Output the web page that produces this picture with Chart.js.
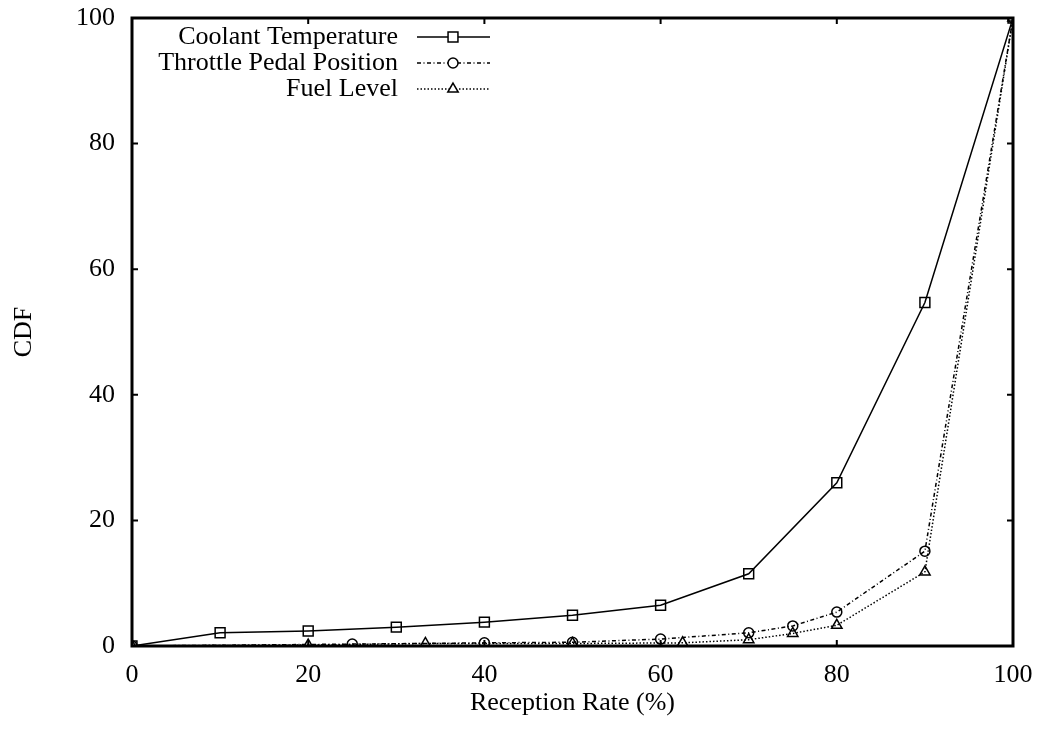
<!DOCTYPE html>
<html>
<head>
<meta charset="utf-8">
<script src="https://cdn.jsdelivr.net/npm/chart.js@4.4.1/dist/chart.umd.min.js"></script>
<style>
html,body{margin:0;padding:0;background:#fff;}
#wrap{width:1041px;height:732px;position:relative;}
</style>
</head>
<body>
<div id="wrap"><canvas id="c" width="1041" height="732"></canvas></div>
<script>
// ---- data ----
const seriesNames = ["Coolant Temperature", "Throttle Pedal Position", "Fuel Level"];
const coolantX = [0, 10, 20, 30, 40, 50, 60, 70, 80, 90, 100];
const coolantY = [0, 2.1, 2.4, 3.0, 3.8, 4.9, 6.5, 11.5, 26.0, 54.7, 100];
const throttleX = [0, 25, 40, 50, 60, 70, 75, 80, 90, 100];
const throttleY = [0, 0.3, 0.5, 0.6, 1.1, 2.1, 3.2, 5.4, 15.1, 100];
const fuelX = [0, 20, 33.3, 50, 62.5, 70, 75, 80, 90, 100];
const fuelY = [0, 0.15, 0.4, 0.4, 0.5, 1.0, 2.0, 3.3, 11.8, 100];
const xTicks = [0, 20, 40, 60, 80, 100];
const yTicks = [0, 20, 40, 60, 80, 100];
const xTitle = "Reception Rate (%)";
const yTitle = "CDF";

const FONT = "'Liberation Serif', 'Times New Roman', serif";
const FS = 26;
const pts = (xs, ys) => xs.map((x, i) => ({x: x, y: ys[i]}));

const styles = [
  {dash: [], pointStyle: 'rect', r: 7},
  {dash: [4, 2.5, 1, 2.5], pointStyle: 'circle', r: 5},
  {dash: [1.5, 2], pointStyle: 'triangle', r: 6}
];

const datasets = [pts(coolantX, coolantY), pts(throttleX, throttleY), pts(fuelX, fuelY)].map((d, i) => ({
  label: seriesNames[i],
  data: d,
  showLine: true,
  borderColor: '#000',
  backgroundColor: 'rgba(0,0,0,0)',
  borderWidth: 1.5,
  borderDash: styles[i].dash,
  pointStyle: styles[i].pointStyle,
  pointRadius: styles[i].r,
  pointBorderWidth: 1.5,
  pointBorderColor: '#000',
  pointBackgroundColor: 'rgba(0,0,0,0)',
  tension: 0
}));

// frame, inward ticks and legend (gnuplot style)
const framePlugin = {
  id: 'frame',
  afterDatasetsDraw(chart) {
    const {ctx, chartArea: a, scales} = chart;
    ctx.save();
    ctx.strokeStyle = '#000';
    ctx.lineWidth = 3;
    ctx.strokeRect(a.left, a.top, a.right - a.left, a.bottom - a.top);
    ctx.lineWidth = 2;
    const tl = 6;
    xTicks.forEach(v => {
      const x = scales.x.getPixelForValue(v);
      ctx.beginPath();
      ctx.moveTo(x, a.bottom); ctx.lineTo(x, a.bottom - tl);
      ctx.moveTo(x, a.top); ctx.lineTo(x, a.top + tl);
      ctx.stroke();
    });
    yTicks.forEach(v => {
      const y = scales.y.getPixelForValue(v);
      ctx.beginPath();
      ctx.moveTo(a.left, y); ctx.lineTo(a.left + tl, y);
      ctx.moveTo(a.right, y); ctx.lineTo(a.right - tl, y);
      ctx.stroke();
    });
    // legend
    ctx.font = FS + "px " + FONT;
    ctx.textAlign = 'right';
    ctx.textBaseline = 'middle';
    const rows = [37, 63, 89];
    chart.data.datasets.forEach((ds, i) => {
      const y = rows[i];
      ctx.fillStyle = '#000';
      ctx.fillText(ds.label, 398, y);
      ctx.setLineDash(ds.borderDash);
      ctx.lineWidth = 1.5;
      ctx.beginPath();
      ctx.moveTo(417, y); ctx.lineTo(490, y);
      ctx.stroke();
      ctx.setLineDash([]);
      ctx.fillStyle = '#fff';
      Chart.helpers.drawPoint(ctx, {pointStyle: ds.pointStyle, radius: ds.pointRadius, rotation: 0, borderWidth: 1.5}, 453, y);
    });
    ctx.restore();
  }
};

function zeroPad(s) { s.paddingTop = 0; s.paddingBottom = 0; s.paddingLeft = 0; s.paddingRight = 0; }

new Chart(document.getElementById('c'), {
  type: 'scatter',
  data: {datasets: datasets},
  plugins: [framePlugin],
  options: {
    responsive: false,
    animation: false,
    layout: {padding: {left: 0, right: 28, top: 18, bottom: 0}},
    plugins: {legend: {display: false}, tooltip: {enabled: false}},
    scales: {
      x: {
        type: 'linear', min: 0, max: 100,
        afterFit(s) { s.height = 86; zeroPad(s); },
        afterBuildTicks(s) { s.ticks = xTicks.map(v => ({value: v})); },
        grid: {display: false, drawTicks: false},
        border: {display: false},
        ticks: {color: '#000', font: {family: FONT, size: FS}, padding: 14, maxRotation: 0},
        title: {display: true, text: xTitle, color: '#000', font: {family: FONT, size: FS}, padding: {top: 2, bottom: 13}}
      },
      y: {
        type: 'linear', min: 0, max: 100,
        afterFit(s) { s.width = 132; zeroPad(s); },
        afterBuildTicks(s) { s.ticks = yTicks.map(v => ({value: v})); },
        grid: {display: false, drawTicks: false},
        border: {display: false},
        ticks: {color: '#000', font: {family: FONT, size: FS}, padding: 17},
        title: {display: true, text: yTitle, color: '#000', font: {family: FONT, size: FS}, padding: {top: 9, bottom: 0}}
      }
    }
  }
});
</script>
</body>
</html>
